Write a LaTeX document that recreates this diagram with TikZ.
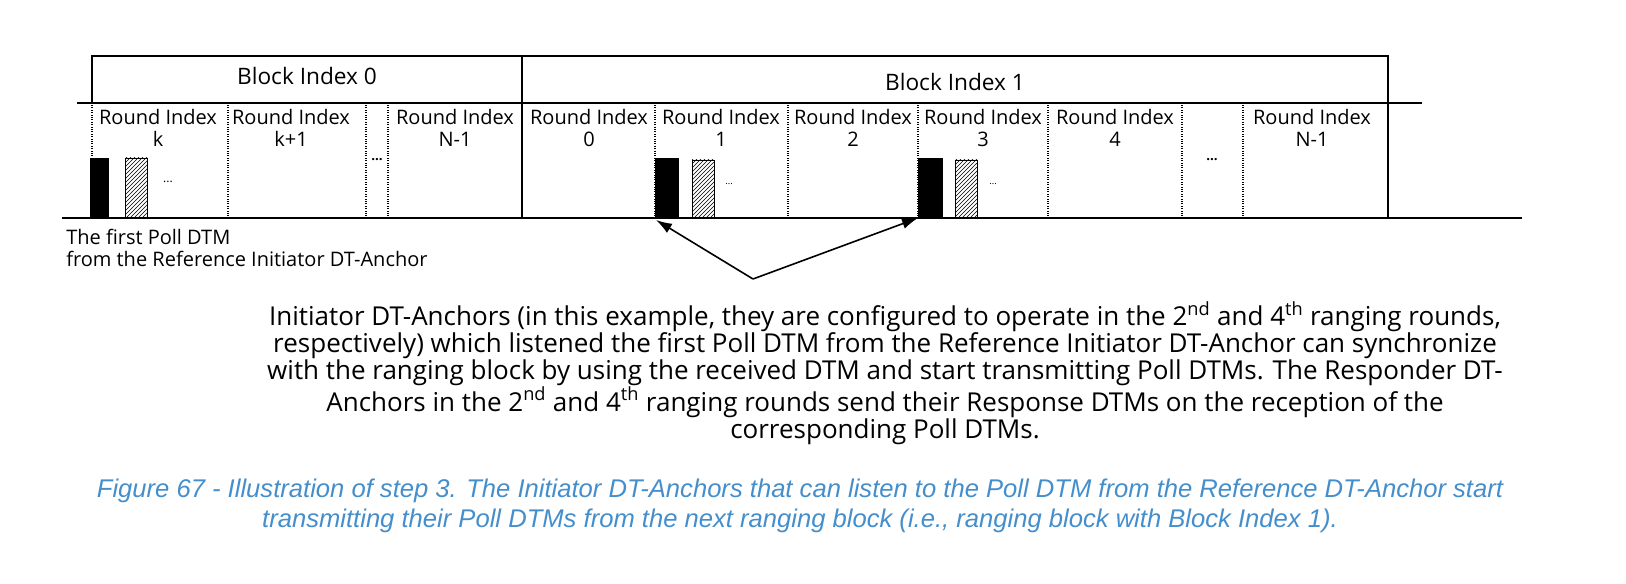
\documentclass[tikz,border=0pt]{standalone}
\usepackage{fontspec}
\setmainfont{Open Sans}
\newfontfamily\capfont{Liberation Sans}
\usetikzlibrary{patterns,arrows.meta}
\definecolor{capblue}{RGB}{68,142,204}
\tikzset{
  rnd/.style={font=\fontsize{15}{16.5}\selectfont,align=center,inner sep=0.75pt,anchor=north},
  divider/.style={densely dotted,line width=0.8pt},
  pollbar/.style={fill=black,draw=black},
  respbar/.style={draw=black,pattern=north east lines},
}
\begin{document}
\begin{tikzpicture}[x=0.75pt,y=0.75pt,yscale=-1,xscale=1]
\useasboundingbox (0,0) rectangle (1626,584);

% block frames and time axis
\draw [line width=1pt] (92,103) -- (92,56) -- (1388,56) -- (1388,218);
\draw [line width=1pt] (522,56) -- (522,218);
\draw [line width=0.8pt] (77,103) -- (1422,103);
\draw [line width=0.8pt] (62,218) -- (1522,218);
\node (blk0) at (307,76) {\fontsize{17}{18}\selectfont Block Index 0};
\node (blk1) at (955,82) {\fontsize{17}{18}\selectfont Block Index 1};

% round dividers
\foreach \x in {92,228,366,388,655,788,918,1048,1182,1243}
  \draw [divider] (\x,105) -- (\x,218);

% round labels
\node [rnd] (r0k) at (158,108) {Round Index\\k};
\node [rnd] (r0k1) at (291,108) {Round Index\\k+1};
\node [rnd] (r0n) at (455,108) {Round Index\\N-1};
\node [rnd] (r10) at (589,108) {Round Index\\0};
\node [rnd] (r11) at (721,108) {Round Index\\1};
\node [rnd] (r12) at (853,108) {Round Index\\2};
\node [rnd] (r13) at (983,108) {Round Index\\3};
\node [rnd] (r14) at (1115,108) {Round Index\\4};
\node [rnd] (r1n) at (1312,108) {Round Index\\N-1};
\node (dots0) at (377,160) {\textbf{...}};
\node (dots1) at (1212,160) {\textbf{...}};

% poll and response DTMs
\draw [pollbar] (90,158) rectangle (108,218);
\draw [respbar] (125,158) rectangle (147,218);
\node [font=\small] (more0) at (168,182) {...};
\draw [pollbar] (655,158) rectangle (678,218);
\draw [respbar] (692,160) rectangle (714,218);
\node [font=\scriptsize] (more1) at (729,184) {...};
\draw [pollbar] (918,158) rectangle (942,218);
\draw [respbar] (955,160) rectangle (977,218);
\node [font=\scriptsize] (more3) at (993,184) {...};
\coordinate (p1) at (656,220);
\coordinate (p3) at (918,218);

% Text Node
\node [anchor=north west,align=left,inner sep=0.75pt,font=\fontsize{15}{16.5}\selectfont] (first) at (65,228) {The first Poll DTM\\from the Reference Initiator DT-Anchor};
\coordinate (apex) at (753,279);
\draw [line width=1.2pt,-{Latex[length=12pt,width=8pt]}] (apex) -- (p1);
\draw [line width=1.2pt,-{Latex[length=12pt,width=8pt]}] (apex) -- (p3);

% Text Node
\node [align=center,inner sep=0.75pt,font=\fontsize{19.5}{20.25}\selectfont] (expl) at (885,373) {Initiator DT-Anchors (in this example, they are configured to operate in the 2\textsuperscript{nd} and 4\textsuperscript{th} ranging rounds,\\respectively) which listened the first Poll DTM from the Reference Initiator DT-Anchor can synchronize\\with the ranging block by using the received DTM and start transmitting Poll DTMs. The Responder DT-\\Anchors in the 2\textsuperscript{nd} and 4\textsuperscript{th} ranging rounds send their Response DTMs on the reception of the\\corresponding Poll DTMs.};
% Text Node
\node [align=center,inner sep=0.75pt,text=capblue,font=\capfont\itshape\fontsize{19.2}{22.5}\selectfont] (caption) at (800,506) {Figure 67 - Illustration of step 3. The Initiator DT-Anchors that can listen to the Poll DTM from the Reference DT-Anchor start\\transmitting their Poll DTMs from the next ranging block (i.e., ranging block with Block Index 1).};
\end{tikzpicture}
\end{document}
